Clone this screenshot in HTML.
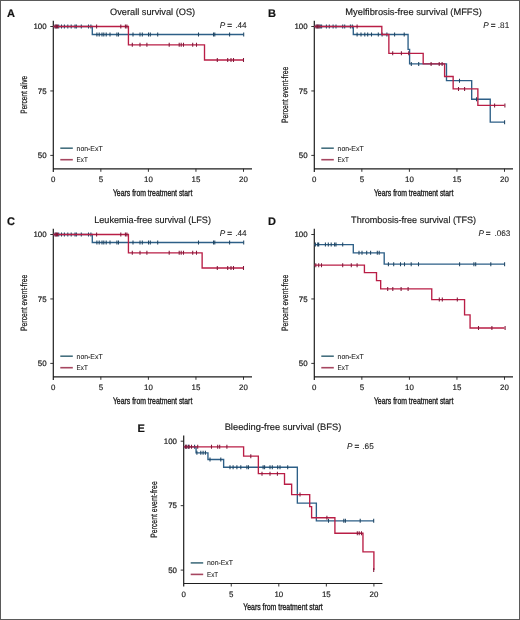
<!DOCTYPE html>
<html><head><meta charset="utf-8"><style>
html,body{margin:0;padding:0;background:#fff;}
svg{display:block;font-family:"Liberation Sans", sans-serif;will-change:transform;text-rendering:geometricPrecision;}
</style></head><body>
<svg width="520" height="620" viewBox="0 0 520 620">
<rect x="0.5" y="0.5" width="519" height="619" fill="#fff" stroke="#5a5a5a" stroke-width="1"/>
<g transform="translate(0,0)">
<path d="M53.3,20.8V171.9 M52.699999999999996,168.8H252" fill="none" stroke="#1e1e1e" stroke-width="1.2"/>
<path d="M100.85,168.8V171.8 M148.40,168.8V171.8 M195.95,168.8V171.8 M243.50,168.8V171.8 M50.3,26.50H53.3 M50.3,90.95H53.3 M50.3,155.40H53.3" stroke="#1e1e1e" stroke-width="0.9"/>
<text x="53.30" y="181.90" font-size="7.9" text-anchor="middle" font-weight="normal" font-style="normal" fill="#1c1c1c" stroke="#1c1c1c" stroke-width="0.18">0</text>
<text x="100.85" y="181.90" font-size="7.9" text-anchor="middle" font-weight="normal" font-style="normal" fill="#1c1c1c" stroke="#1c1c1c" stroke-width="0.18">5</text>
<text x="148.40" y="181.90" font-size="7.9" text-anchor="middle" font-weight="normal" font-style="normal" fill="#1c1c1c" stroke="#1c1c1c" stroke-width="0.18">10</text>
<text x="195.95" y="181.90" font-size="7.9" text-anchor="middle" font-weight="normal" font-style="normal" fill="#1c1c1c" stroke="#1c1c1c" stroke-width="0.18">15</text>
<text x="243.50" y="181.90" font-size="7.9" text-anchor="middle" font-weight="normal" font-style="normal" fill="#1c1c1c" stroke="#1c1c1c" stroke-width="0.18">20</text>
<text x="46.60" y="29.10" font-size="7.9" text-anchor="end" font-weight="normal" font-style="normal" fill="#1c1c1c" stroke="#1c1c1c" stroke-width="0.22">100</text>
<text x="46.60" y="93.55" font-size="7.9" text-anchor="end" font-weight="normal" font-style="normal" fill="#1c1c1c" stroke="#1c1c1c" stroke-width="0.22">75</text>
<text x="46.60" y="158.00" font-size="7.9" text-anchor="end" font-weight="normal" font-style="normal" fill="#1c1c1c" stroke="#1c1c1c" stroke-width="0.22">50</text>
<text x="152.60" y="15.40" font-size="9.3" text-anchor="middle" font-weight="normal" font-style="normal" fill="#1c1c1c" textLength="85.1" lengthAdjust="spacingAndGlyphs" stroke="#1c1c1c" stroke-width="0.18">Overall survival (OS)</text>
<text x="7.00" y="16.90" font-size="11" text-anchor="start" font-weight="bold" font-style="normal" fill="#111" stroke="#1c1c1c" stroke-width="0.18">A</text>
<text x="219.70" y="27.70" font-size="8.2" font-style="italic" fill="#1c1c1c" stroke="#1c1c1c" stroke-width="0.1">P</text>
<text x="229.55" y="27.70" font-size="8.2" text-anchor="middle" fill="#1c1c1c" stroke="#1c1c1c" stroke-width="0.3">=</text>
<text x="246.60" y="27.70" font-size="8.2" text-anchor="end" fill="#1c1c1c" stroke="#1c1c1c" stroke-width="0.08">.44</text>
<text transform="translate(26.9,94.8) rotate(-90)" x="0" y="0" font-size="9.2" text-anchor="middle" fill="#1c1c1c" stroke="#1c1c1c" stroke-width="0.25" textLength="37.8" lengthAdjust="spacingAndGlyphs">Percent alive</text>
<text x="152.60" y="195.70" font-size="9.4" text-anchor="middle" font-weight="normal" font-style="normal" fill="#1c1c1c" textLength="79.4" lengthAdjust="spacingAndGlyphs" stroke="#1c1c1c" stroke-width="0.35">Years from treatment start</text>
<path d="M60.3,148.2H72.8" stroke="#46707f" stroke-width="1.6"/>
<path d="M60.3,159.7H72.8" stroke="#a64660" stroke-width="1.6"/>
<text x="76.60" y="150.50" font-size="7.2" text-anchor="start" font-weight="normal" font-style="normal" fill="#1c1c1c" textLength="26" lengthAdjust="spacingAndGlyphs" stroke="#1c1c1c" stroke-width="0.08">non-ExT</text>
<text x="76.60" y="162.00" font-size="7.2" text-anchor="start" font-weight="normal" font-style="normal" fill="#1c1c1c" textLength="11.1" lengthAdjust="spacingAndGlyphs" stroke="#1c1c1c" stroke-width="0.08">ExT</text>
<path d="M53.30,26.50 H92.29 V34.49 H243.50" fill="none" stroke="#2d5f87" stroke-width="1.35" stroke-linejoin="miter"/>
<path d="M55.80,24.50V28.50 M58.70,24.50V28.50 M61.50,24.50V28.50 M64.40,24.50V28.50 M67.80,24.50V28.50 M71.20,24.50V28.50 M75.00,24.50V28.50 M76.40,24.50V28.50 M81.30,24.50V28.50 M88.50,24.50V28.50 M90.90,24.50V28.50 M96.90,32.49V36.49 M99.20,32.49V36.49 M102.00,32.49V36.49 M103.80,32.49V36.49 M106.20,32.49V36.49 M110.00,32.49V36.49 M116.90,32.49V36.49 M118.50,32.49V36.49 M133.00,32.49V36.49 M140.00,32.49V36.49 M142.30,32.49V36.49 M148.50,32.49V36.49 M150.30,32.49V36.49 M157.70,32.49V36.49 M198.50,32.49V36.49 M213.50,32.49V36.49 M214.80,32.49V36.49 M229.60,32.49V36.49 M243.70,32.49V36.49" stroke="#1f4563" stroke-width="1.05"/>
<path d="M53.30,26.50 H128.43 V44.80 H204.51 V60.01 H243.50" fill="none" stroke="#b91e46" stroke-width="1.35" stroke-linejoin="miter"/>
<path d="M55.00,24.50V28.50 M56.50,24.50V28.50 M57.50,24.50V28.50 M96.60,24.50V28.50 M120.80,24.50V28.50 M125.40,24.50V28.50 M126.90,24.50V28.50 M132.30,42.80V46.80 M140.00,42.80V46.80 M146.90,42.80V46.80 M169.20,42.80V46.80 M179.20,42.80V46.80 M181.20,42.80V46.80 M183.50,42.80V46.80 M192.70,42.80V46.80 M196.50,42.80V46.80 M217.30,58.01V62.01 M227.70,58.01V62.01 M231.00,58.01V62.01 M233.50,58.01V62.01 M243.50,58.01V62.01" stroke="#82183a" stroke-width="1.05"/>
</g>
<g transform="translate(261,0)">
<path d="M53.3,20.8V171.9 M52.699999999999996,168.8H252" fill="none" stroke="#1e1e1e" stroke-width="1.2"/>
<path d="M100.85,168.8V171.8 M148.40,168.8V171.8 M195.95,168.8V171.8 M243.50,168.8V171.8 M50.3,26.50H53.3 M50.3,90.95H53.3 M50.3,155.40H53.3" stroke="#1e1e1e" stroke-width="0.9"/>
<text x="53.30" y="181.90" font-size="7.9" text-anchor="middle" font-weight="normal" font-style="normal" fill="#1c1c1c" stroke="#1c1c1c" stroke-width="0.18">0</text>
<text x="100.85" y="181.90" font-size="7.9" text-anchor="middle" font-weight="normal" font-style="normal" fill="#1c1c1c" stroke="#1c1c1c" stroke-width="0.18">5</text>
<text x="148.40" y="181.90" font-size="7.9" text-anchor="middle" font-weight="normal" font-style="normal" fill="#1c1c1c" stroke="#1c1c1c" stroke-width="0.18">10</text>
<text x="195.95" y="181.90" font-size="7.9" text-anchor="middle" font-weight="normal" font-style="normal" fill="#1c1c1c" stroke="#1c1c1c" stroke-width="0.18">15</text>
<text x="243.50" y="181.90" font-size="7.9" text-anchor="middle" font-weight="normal" font-style="normal" fill="#1c1c1c" stroke="#1c1c1c" stroke-width="0.18">20</text>
<text x="46.60" y="29.10" font-size="7.9" text-anchor="end" font-weight="normal" font-style="normal" fill="#1c1c1c" stroke="#1c1c1c" stroke-width="0.22">100</text>
<text x="46.60" y="93.55" font-size="7.9" text-anchor="end" font-weight="normal" font-style="normal" fill="#1c1c1c" stroke="#1c1c1c" stroke-width="0.22">75</text>
<text x="46.60" y="158.00" font-size="7.9" text-anchor="end" font-weight="normal" font-style="normal" fill="#1c1c1c" stroke="#1c1c1c" stroke-width="0.22">50</text>
<text x="152.60" y="15.40" font-size="9.3" text-anchor="middle" font-weight="normal" font-style="normal" fill="#1c1c1c" textLength="136.5" lengthAdjust="spacingAndGlyphs" stroke="#1c1c1c" stroke-width="0.18">Myelfibrosis-free survival (MFFS)</text>
<text x="7.00" y="16.90" font-size="11" text-anchor="start" font-weight="bold" font-style="normal" fill="#111" stroke="#1c1c1c" stroke-width="0.18">B</text>
<text x="222.20" y="27.70" font-size="8.2" font-style="italic" fill="#1c1c1c" stroke="#1c1c1c" stroke-width="0.1">P</text>
<text x="232.05" y="27.70" font-size="8.2" text-anchor="middle" fill="#1c1c1c" stroke="#1c1c1c" stroke-width="0.3">=</text>
<text x="248.20" y="27.70" font-size="8.2" text-anchor="end" fill="#1c1c1c" stroke="#1c1c1c" stroke-width="0.08">.81</text>
<text transform="translate(26.9,94.8) rotate(-90)" x="0" y="0" font-size="9.2" text-anchor="middle" fill="#1c1c1c" stroke="#1c1c1c" stroke-width="0.25" textLength="56.5" lengthAdjust="spacingAndGlyphs">Percent event-free</text>
<text x="152.60" y="195.70" font-size="9.4" text-anchor="middle" font-weight="normal" font-style="normal" fill="#1c1c1c" textLength="79.4" lengthAdjust="spacingAndGlyphs" stroke="#1c1c1c" stroke-width="0.35">Years from treatment start</text>
<path d="M60.3,148.2H72.8" stroke="#46707f" stroke-width="1.6"/>
<path d="M60.3,159.7H72.8" stroke="#a64660" stroke-width="1.6"/>
<text x="76.60" y="150.50" font-size="7.2" text-anchor="start" font-weight="normal" font-style="normal" fill="#1c1c1c" textLength="26" lengthAdjust="spacingAndGlyphs" stroke="#1c1c1c" stroke-width="0.08">non-ExT</text>
<text x="76.60" y="162.00" font-size="7.2" text-anchor="start" font-weight="normal" font-style="normal" fill="#1c1c1c" textLength="11.1" lengthAdjust="spacingAndGlyphs" stroke="#1c1c1c" stroke-width="0.08">ExT</text>
<path d="M53.30,26.50 H92.29 V34.49 H147.07 V49.44 H148.59 V63.88 H185.49 V80.64 H210.69 V99.20 H229.24 V122.14 H243.50" fill="none" stroke="#2d5f87" stroke-width="1.35" stroke-linejoin="miter"/>
<path d="M55.90,24.50V28.50 M57.80,24.50V28.50 M59.30,24.50V28.50 M60.60,24.50V28.50 M65.40,24.50V28.50 M68.30,24.50V28.50 M72.10,24.50V28.50 M75.00,24.50V28.50 M81.70,24.50V28.50 M83.70,24.50V28.50 M89.40,24.50V28.50 M91.30,24.50V28.50 M96.10,32.49V36.49 M100.00,32.49V36.49 M103.80,32.49V36.49 M106.70,32.49V36.49 M110.50,32.49V36.49 M117.30,32.49V36.49 M121.10,32.49V36.49 M125.90,32.49V36.49 M133.60,32.49V36.49 M143.20,32.49V36.49 M150.30,61.88V65.88 M157.70,61.88V65.88 M198.50,78.64V82.64 M215.50,97.20V101.20 M243.60,120.14V124.14" stroke="#1f4563" stroke-width="1.05"/>
<path d="M53.30,26.50 H120.82 V34.49 H127.86 V53.31 H162.19 V63.88 H183.59 V76.51 H192.15 V88.89 H216.87 V105.39 H243.50" fill="none" stroke="#b91e46" stroke-width="1.35" stroke-linejoin="miter"/>
<path d="M55.00,24.50V28.50 M56.50,24.50V28.50 M58.00,24.50V28.50 M96.10,24.50V28.50 M131.70,51.31V55.31 M140.40,51.31V55.31 M147.70,51.31V55.31 M170.10,61.88V65.88 M178.20,61.88V65.88 M181.10,61.88V65.88 M197.50,86.89V90.89 M203.60,86.89V90.89 M233.60,103.39V107.39 M243.90,103.39V107.39" stroke="#82183a" stroke-width="1.05"/>
</g>
<g transform="translate(0,208)">
<path d="M53.3,20.8V171.9 M52.699999999999996,168.8H252" fill="none" stroke="#1e1e1e" stroke-width="1.2"/>
<path d="M100.85,168.8V171.8 M148.40,168.8V171.8 M195.95,168.8V171.8 M243.50,168.8V171.8 M50.3,26.50H53.3 M50.3,90.95H53.3 M50.3,155.40H53.3" stroke="#1e1e1e" stroke-width="0.9"/>
<text x="53.30" y="181.90" font-size="7.9" text-anchor="middle" font-weight="normal" font-style="normal" fill="#1c1c1c" stroke="#1c1c1c" stroke-width="0.18">0</text>
<text x="100.85" y="181.90" font-size="7.9" text-anchor="middle" font-weight="normal" font-style="normal" fill="#1c1c1c" stroke="#1c1c1c" stroke-width="0.18">5</text>
<text x="148.40" y="181.90" font-size="7.9" text-anchor="middle" font-weight="normal" font-style="normal" fill="#1c1c1c" stroke="#1c1c1c" stroke-width="0.18">10</text>
<text x="195.95" y="181.90" font-size="7.9" text-anchor="middle" font-weight="normal" font-style="normal" fill="#1c1c1c" stroke="#1c1c1c" stroke-width="0.18">15</text>
<text x="243.50" y="181.90" font-size="7.9" text-anchor="middle" font-weight="normal" font-style="normal" fill="#1c1c1c" stroke="#1c1c1c" stroke-width="0.18">20</text>
<text x="46.60" y="29.10" font-size="7.9" text-anchor="end" font-weight="normal" font-style="normal" fill="#1c1c1c" stroke="#1c1c1c" stroke-width="0.22">100</text>
<text x="46.60" y="93.55" font-size="7.9" text-anchor="end" font-weight="normal" font-style="normal" fill="#1c1c1c" stroke="#1c1c1c" stroke-width="0.22">75</text>
<text x="46.60" y="158.00" font-size="7.9" text-anchor="end" font-weight="normal" font-style="normal" fill="#1c1c1c" stroke="#1c1c1c" stroke-width="0.22">50</text>
<text x="152.60" y="15.40" font-size="9.3" text-anchor="middle" font-weight="normal" font-style="normal" fill="#1c1c1c" textLength="116.7" lengthAdjust="spacingAndGlyphs" stroke="#1c1c1c" stroke-width="0.18">Leukemia-free survival (LFS)</text>
<text x="7.00" y="16.90" font-size="11" text-anchor="start" font-weight="bold" font-style="normal" fill="#111" stroke="#1c1c1c" stroke-width="0.18">C</text>
<text x="219.70" y="27.70" font-size="8.2" font-style="italic" fill="#1c1c1c" stroke="#1c1c1c" stroke-width="0.1">P</text>
<text x="229.55" y="27.70" font-size="8.2" text-anchor="middle" fill="#1c1c1c" stroke="#1c1c1c" stroke-width="0.3">=</text>
<text x="246.60" y="27.70" font-size="8.2" text-anchor="end" fill="#1c1c1c" stroke="#1c1c1c" stroke-width="0.08">.44</text>
<text transform="translate(26.9,94.8) rotate(-90)" x="0" y="0" font-size="9.2" text-anchor="middle" fill="#1c1c1c" stroke="#1c1c1c" stroke-width="0.25" textLength="56.5" lengthAdjust="spacingAndGlyphs">Percent event-free</text>
<text x="152.60" y="195.70" font-size="9.4" text-anchor="middle" font-weight="normal" font-style="normal" fill="#1c1c1c" textLength="79.4" lengthAdjust="spacingAndGlyphs" stroke="#1c1c1c" stroke-width="0.35">Years from treatment start</text>
<path d="M60.3,148.2H72.8" stroke="#46707f" stroke-width="1.6"/>
<path d="M60.3,159.7H72.8" stroke="#a64660" stroke-width="1.6"/>
<text x="76.60" y="150.50" font-size="7.2" text-anchor="start" font-weight="normal" font-style="normal" fill="#1c1c1c" textLength="26" lengthAdjust="spacingAndGlyphs" stroke="#1c1c1c" stroke-width="0.08">non-ExT</text>
<text x="76.60" y="162.00" font-size="7.2" text-anchor="start" font-weight="normal" font-style="normal" fill="#1c1c1c" textLength="11.1" lengthAdjust="spacingAndGlyphs" stroke="#1c1c1c" stroke-width="0.08">ExT</text>
<path d="M53.30,26.50 H92.29 V34.49 H243.50" fill="none" stroke="#2d5f87" stroke-width="1.35" stroke-linejoin="miter"/>
<path d="M55.80,24.50V28.50 M58.70,24.50V28.50 M61.50,24.50V28.50 M64.40,24.50V28.50 M67.80,24.50V28.50 M71.20,24.50V28.50 M75.00,24.50V28.50 M76.40,24.50V28.50 M81.30,24.50V28.50 M88.50,24.50V28.50 M90.90,24.50V28.50 M96.90,32.49V36.49 M99.20,32.49V36.49 M102.00,32.49V36.49 M103.80,32.49V36.49 M106.20,32.49V36.49 M110.00,32.49V36.49 M116.90,32.49V36.49 M118.50,32.49V36.49 M133.00,32.49V36.49 M140.00,32.49V36.49 M142.30,32.49V36.49 M148.50,32.49V36.49 M150.30,32.49V36.49 M157.70,32.49V36.49 M198.50,32.49V36.49 M213.50,32.49V36.49 M214.80,32.49V36.49 M229.60,32.49V36.49 M243.70,32.49V36.49" stroke="#1f4563" stroke-width="1.05"/>
<path d="M53.30,26.50 H128.43 V44.80 H202.13 V60.01 H243.50" fill="none" stroke="#b91e46" stroke-width="1.35" stroke-linejoin="miter"/>
<path d="M55.00,24.50V28.50 M56.50,24.50V28.50 M57.50,24.50V28.50 M96.60,24.50V28.50 M120.80,24.50V28.50 M125.40,24.50V28.50 M126.90,24.50V28.50 M132.30,42.80V46.80 M140.00,42.80V46.80 M146.90,42.80V46.80 M169.20,42.80V46.80 M179.20,42.80V46.80 M181.20,42.80V46.80 M183.50,42.80V46.80 M192.70,42.80V46.80 M196.50,42.80V46.80 M217.30,58.01V62.01 M227.70,58.01V62.01 M231.00,58.01V62.01 M233.50,58.01V62.01 M243.50,58.01V62.01" stroke="#82183a" stroke-width="1.05"/>
</g>
<g transform="translate(261,208)">
<path d="M53.3,20.8V171.9 M52.699999999999996,168.8H252" fill="none" stroke="#1e1e1e" stroke-width="1.2"/>
<path d="M100.85,168.8V171.8 M148.40,168.8V171.8 M195.95,168.8V171.8 M243.50,168.8V171.8 M50.3,26.50H53.3 M50.3,90.95H53.3 M50.3,155.40H53.3" stroke="#1e1e1e" stroke-width="0.9"/>
<text x="53.30" y="181.90" font-size="7.9" text-anchor="middle" font-weight="normal" font-style="normal" fill="#1c1c1c" stroke="#1c1c1c" stroke-width="0.18">0</text>
<text x="100.85" y="181.90" font-size="7.9" text-anchor="middle" font-weight="normal" font-style="normal" fill="#1c1c1c" stroke="#1c1c1c" stroke-width="0.18">5</text>
<text x="148.40" y="181.90" font-size="7.9" text-anchor="middle" font-weight="normal" font-style="normal" fill="#1c1c1c" stroke="#1c1c1c" stroke-width="0.18">10</text>
<text x="195.95" y="181.90" font-size="7.9" text-anchor="middle" font-weight="normal" font-style="normal" fill="#1c1c1c" stroke="#1c1c1c" stroke-width="0.18">15</text>
<text x="243.50" y="181.90" font-size="7.9" text-anchor="middle" font-weight="normal" font-style="normal" fill="#1c1c1c" stroke="#1c1c1c" stroke-width="0.18">20</text>
<text x="46.60" y="29.10" font-size="7.9" text-anchor="end" font-weight="normal" font-style="normal" fill="#1c1c1c" stroke="#1c1c1c" stroke-width="0.22">100</text>
<text x="46.60" y="93.55" font-size="7.9" text-anchor="end" font-weight="normal" font-style="normal" fill="#1c1c1c" stroke="#1c1c1c" stroke-width="0.22">75</text>
<text x="46.60" y="158.00" font-size="7.9" text-anchor="end" font-weight="normal" font-style="normal" fill="#1c1c1c" stroke="#1c1c1c" stroke-width="0.22">50</text>
<text x="152.60" y="15.40" font-size="9.3" text-anchor="middle" font-weight="normal" font-style="normal" fill="#1c1c1c" textLength="125.0" lengthAdjust="spacingAndGlyphs" stroke="#1c1c1c" stroke-width="0.18">Thrombosis-free survival (TFS)</text>
<text x="7.00" y="16.90" font-size="11" text-anchor="start" font-weight="bold" font-style="normal" fill="#111" stroke="#1c1c1c" stroke-width="0.18">D</text>
<text x="217.40" y="27.80" font-size="8.2" font-style="italic" fill="#1c1c1c" stroke="#1c1c1c" stroke-width="0.1">P</text>
<text x="227.25" y="27.80" font-size="8.2" text-anchor="middle" fill="#1c1c1c" stroke="#1c1c1c" stroke-width="0.3">=</text>
<text x="249.40" y="27.80" font-size="8.2" text-anchor="end" fill="#1c1c1c" stroke="#1c1c1c" stroke-width="0.08">.063</text>
<text transform="translate(26.9,94.8) rotate(-90)" x="0" y="0" font-size="9.2" text-anchor="middle" fill="#1c1c1c" stroke="#1c1c1c" stroke-width="0.25" textLength="56.5" lengthAdjust="spacingAndGlyphs">Percent event-free</text>
<text x="152.60" y="195.70" font-size="9.4" text-anchor="middle" font-weight="normal" font-style="normal" fill="#1c1c1c" textLength="79.4" lengthAdjust="spacingAndGlyphs" stroke="#1c1c1c" stroke-width="0.35">Years from treatment start</text>
<path d="M60.3,148.2H72.8" stroke="#46707f" stroke-width="1.6"/>
<path d="M60.3,159.7H72.8" stroke="#a64660" stroke-width="1.6"/>
<text x="76.60" y="150.50" font-size="7.2" text-anchor="start" font-weight="normal" font-style="normal" fill="#1c1c1c" textLength="26" lengthAdjust="spacingAndGlyphs" stroke="#1c1c1c" stroke-width="0.08">non-ExT</text>
<text x="76.60" y="162.00" font-size="7.2" text-anchor="start" font-weight="normal" font-style="normal" fill="#1c1c1c" textLength="11.1" lengthAdjust="spacingAndGlyphs" stroke="#1c1c1c" stroke-width="0.08">ExT</text>
<path d="M53.30,36.55 H92.29 V44.80 H123.20 V56.15 H243.50" fill="none" stroke="#2d5f87" stroke-width="1.35" stroke-linejoin="miter"/>
<path d="M54.40,34.55V38.55 M56.70,34.55V38.55 M57.70,34.55V38.55 M64.40,34.55V38.55 M67.30,34.55V38.55 M70.20,34.55V38.55 M73.60,34.55V38.55 M75.00,34.55V38.55 M81.70,34.55V38.55 M98.00,42.80V46.80 M101.00,42.80V46.80 M105.70,42.80V46.80 M109.60,42.80V46.80 M116.30,42.80V46.80 M118.20,42.80V46.80 M127.40,54.15V58.15 M132.70,54.15V58.15 M139.50,54.15V58.15 M143.50,54.15V58.15 M150.20,54.15V58.15 M157.50,54.15V58.15 M198.60,54.15V58.15 M212.90,54.15V58.15 M214.70,54.15V58.15 M229.80,54.15V58.15 M243.60,54.15V58.15" stroke="#1f4563" stroke-width="1.05"/>
<path d="M53.30,57.18 H103.42 V64.65 H115.50 V72.65 H119.68 V80.90 H170.75 V91.59 H203.56 V106.80 H209.07 V119.95 H243.50" fill="none" stroke="#b91e46" stroke-width="1.35" stroke-linejoin="miter"/>
<path d="M54.80,55.18V59.18 M57.70,55.18V59.18 M60.50,55.18V59.18 M81.70,55.18V59.18 M90.30,55.18V59.18 M96.10,55.18V59.18 M126.70,78.90V82.90 M131.80,78.90V82.90 M140.10,78.90V82.90 M147.10,78.90V82.90 M178.30,89.59V93.59 M181.30,89.59V93.59 M196.30,89.59V93.59 M217.50,117.95V121.95 M230.90,117.95V121.95 M244.10,117.95V121.95" stroke="#82183a" stroke-width="1.05"/>
</g>
<g transform="translate(130.4,414.7)">
<path d="M53.3,20.8V171.9 M52.699999999999996,168.8H252" fill="none" stroke="#1e1e1e" stroke-width="1.2"/>
<path d="M100.85,168.8V171.8 M148.40,168.8V171.8 M195.95,168.8V171.8 M243.50,168.8V171.8 M50.3,26.50H53.3 M50.3,90.95H53.3 M50.3,155.40H53.3" stroke="#1e1e1e" stroke-width="0.9"/>
<text x="53.30" y="181.90" font-size="7.9" text-anchor="middle" font-weight="normal" font-style="normal" fill="#1c1c1c" stroke="#1c1c1c" stroke-width="0.18">0</text>
<text x="100.85" y="181.90" font-size="7.9" text-anchor="middle" font-weight="normal" font-style="normal" fill="#1c1c1c" stroke="#1c1c1c" stroke-width="0.18">5</text>
<text x="148.40" y="181.90" font-size="7.9" text-anchor="middle" font-weight="normal" font-style="normal" fill="#1c1c1c" stroke="#1c1c1c" stroke-width="0.18">10</text>
<text x="195.95" y="181.90" font-size="7.9" text-anchor="middle" font-weight="normal" font-style="normal" fill="#1c1c1c" stroke="#1c1c1c" stroke-width="0.18">15</text>
<text x="243.50" y="181.90" font-size="7.9" text-anchor="middle" font-weight="normal" font-style="normal" fill="#1c1c1c" stroke="#1c1c1c" stroke-width="0.18">20</text>
<text x="46.60" y="29.10" font-size="7.9" text-anchor="end" font-weight="normal" font-style="normal" fill="#1c1c1c" stroke="#1c1c1c" stroke-width="0.22">100</text>
<text x="46.60" y="93.55" font-size="7.9" text-anchor="end" font-weight="normal" font-style="normal" fill="#1c1c1c" stroke="#1c1c1c" stroke-width="0.22">75</text>
<text x="46.60" y="158.00" font-size="7.9" text-anchor="end" font-weight="normal" font-style="normal" fill="#1c1c1c" stroke="#1c1c1c" stroke-width="0.22">50</text>
<text x="152.60" y="15.40" font-size="9.3" text-anchor="middle" font-weight="normal" font-style="normal" fill="#1c1c1c" textLength="116.7" lengthAdjust="spacingAndGlyphs" stroke="#1c1c1c" stroke-width="0.18">Bleeding-free survival (BFS)</text>
<text x="7.00" y="16.90" font-size="11" text-anchor="start" font-weight="bold" font-style="normal" fill="#111" stroke="#1c1c1c" stroke-width="0.18">E</text>
<text x="216.60" y="34.10" font-size="8.2" font-style="italic" fill="#1c1c1c" stroke="#1c1c1c" stroke-width="0.1">P</text>
<text x="226.45" y="34.10" font-size="8.2" text-anchor="middle" fill="#1c1c1c" stroke="#1c1c1c" stroke-width="0.3">=</text>
<text x="243.30" y="34.10" font-size="8.2" text-anchor="end" fill="#1c1c1c" stroke="#1c1c1c" stroke-width="0.08">.65</text>
<text transform="translate(26.9,94.8) rotate(-90)" x="0" y="0" font-size="9.2" text-anchor="middle" fill="#1c1c1c" stroke="#1c1c1c" stroke-width="0.25" textLength="56.5" lengthAdjust="spacingAndGlyphs">Percent event-free</text>
<text x="152.60" y="195.70" font-size="9.4" text-anchor="middle" font-weight="normal" font-style="normal" fill="#1c1c1c" textLength="79.4" lengthAdjust="spacingAndGlyphs" stroke="#1c1c1c" stroke-width="0.35">Years from treatment start</text>
<path d="M60.3,148.2H72.8" stroke="#46707f" stroke-width="1.6"/>
<path d="M60.3,159.7H72.8" stroke="#a64660" stroke-width="1.6"/>
<text x="76.60" y="150.50" font-size="7.2" text-anchor="start" font-weight="normal" font-style="normal" fill="#1c1c1c" textLength="26" lengthAdjust="spacingAndGlyphs" stroke="#1c1c1c" stroke-width="0.08">non-ExT</text>
<text x="76.60" y="162.00" font-size="7.2" text-anchor="start" font-weight="normal" font-style="normal" fill="#1c1c1c" textLength="11.1" lengthAdjust="spacingAndGlyphs" stroke="#1c1c1c" stroke-width="0.08">ExT</text>
<path d="M53.30,32.17 H65.66 V38.10 H77.55 V44.80 H93.24 V52.54 H166.94 V88.37 H185.96 V106.16 H243.50" fill="none" stroke="#2d5f87" stroke-width="1.35" stroke-linejoin="miter"/>
<path d="M55.80,30.17V34.17 M58.10,30.17V34.17 M64.20,30.17V34.17 M66.50,36.10V40.10 M70.40,36.10V40.10 M72.70,36.10V40.10 M75.00,36.10V40.10 M79.60,42.80V46.80 M90.40,42.80V46.80 M99.60,50.54V54.54 M102.70,50.54V54.54 M106.50,50.54V54.54 M110.40,50.54V54.54 M116.50,50.54V54.54 M118.10,50.54V54.54 M132.70,50.54V54.54 M134.20,50.54V54.54 M139.60,50.54V54.54 M141.90,50.54V54.54 M147.30,50.54V54.54 M149.60,50.54V54.54 M157.30,50.54V54.54 M198.10,104.16V108.16 M213.40,104.16V108.16 M215.00,104.16V108.16 M229.80,104.16V108.16 M243.30,104.16V108.16" stroke="#1f4563" stroke-width="1.05"/>
<path d="M53.30,32.17 H113.21 V41.45 H127.95 V58.98 H154.11 V69.55 H161.24 V79.86 H179.31 V91.98 H181.21 V103.07 H204.51 V118.53 H232.56 V137.10 H243.50 V155.40" fill="none" stroke="#b91e46" stroke-width="1.35" stroke-linejoin="miter"/>
<path d="M55.00,30.17V34.17 M56.50,30.17V34.17 M58.80,30.17V34.17 M61.10,30.17V34.17 M67.30,30.17V34.17 M81.10,30.17V34.17 M87.30,30.17V34.17 M89.30,30.17V34.17 M96.50,30.17V34.17 M120.40,39.45V43.45 M131.60,56.98V60.98 M139.60,56.98V60.98 M147.00,56.98V60.98 M169.60,77.86V81.86 M196.50,101.07V105.07 M226.90,116.53V120.53 M228.80,116.53V120.53 M231.10,116.53V120.53 M243.30,153.40V157.40" stroke="#82183a" stroke-width="1.05"/>
</g>
</svg>
</body></html>
